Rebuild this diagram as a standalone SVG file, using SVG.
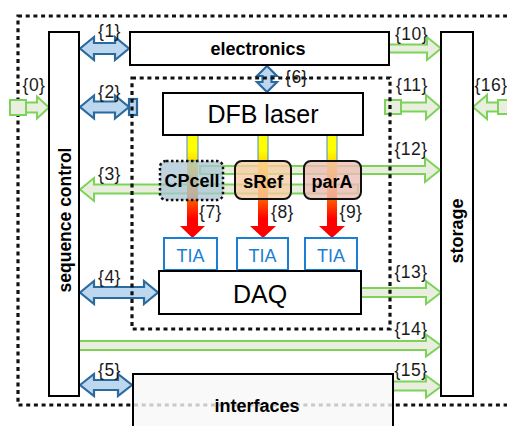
<svg xmlns="http://www.w3.org/2000/svg" width="507" height="426" viewBox="0 0 507 426">
<defs>
<style>
.dot{fill:none;stroke:#111;stroke-width:3.2;stroke-dasharray:4 3.7}
.box{fill:#fff;stroke:#000;stroke-width:2}
.g{fill:#e9eedf;stroke:#7dd35a;stroke-width:2;stroke-linejoin:miter}
.b{fill:#bdd7ee;stroke:#2a6a9e;stroke-width:2.2;stroke-linejoin:miter}
.lbl{font-family:"Liberation Sans",Arial,sans-serif;font-size:17.5px;letter-spacing:0.5px;fill:#1a1a1a}
.t{font-family:"Liberation Sans",Arial,sans-serif;font-weight:bold;fill:#000}
.n{font-family:"Liberation Sans",Arial,sans-serif;fill:#000}
.tia{fill:#fff;stroke:#1a7fd4;stroke-width:2}
.tiat{font-family:"Liberation Sans",Arial,sans-serif;font-size:18px;fill:#1a7fd4;text-anchor:middle}
.beamtop{fill:none;stroke:#4a8ad0;stroke-width:1}
</style>
<linearGradient id="beam" gradientUnits="userSpaceOnUse" x1="0" y1="150" x2="0" y2="228">
<stop offset="0" stop-color="#ffff00"/>
<stop offset="0.2" stop-color="#ffd000"/>
<stop offset="0.64" stop-color="#ff5a00"/>
<stop offset="0.88" stop-color="#ff0000"/>
<stop offset="1" stop-color="#ff0000"/>
</linearGradient>
</defs>

<rect class="dot" x="18" y="16" width="520" height="389"/>

<g id="connectors">
<rect class="g" x="10" y="100" width="16" height="15"/>
<path class="g" d="M26 102.5H37V96.5L49 107.5L37 118.5V112.5H26Z"/>
<path class="g" d="M389 44.5H427V37L441 48.5L427 60V52.5H389Z"/>
<rect class="g" x="385" y="100" width="16" height="14"/>
<path class="g" d="M401 102.5H426V95L440 107L426 119V111.5H401Z"/>
<path class="g" d="M507 102.5H487V95L473 107L487 119V111.5H507Z"/>
<rect class="g" x="498" y="100" width="16" height="14"/>
<path class="g" d="M200 166H425V158L440 170L425 182V174H200Z"/>
<path class="g" d="M358 184.5H94V178L80 189.5L94 201V193.5H358Z"/>
<path class="g" d="M361 288H426V281L441 292.5L426 304V297H361Z"/>
<path class="g" d="M79 341H426V334.5L441 345.5L426 356.5V350H79Z"/>
<path class="g" d="M393 381.5H426V375.5L441 386.5L426 397.5V390.5H393Z"/>
<path class="b" d="M80 48.5L94 37V43H115V37L129 48.5L115 60V54H94V60Z"/>
<path class="b" d="M80 107L94 95.5V101.5H115V95.5L129 107L115 118.5V112.5H94V118.5Z"/>
<rect class="b" x="129" y="99" width="8" height="16"/>
<path class="b" d="M80 292.5L94 281V287H144V281L158 292.5L144 304V298H94V304Z"/>
<path class="b" d="M80 385L94 374V380H118V374L132 385L118 396V390H94V396Z"/>
<path class="b" d="M267 66L277 76H271.5V82H277L267 92L257 82H262.5V76H257Z"/>
</g>

<rect class="dot" x="132" y="78" width="258" height="251"/>

<g id="beams">
<path d="M187 135H198V226H205L192.5 238L180 226H187Z" fill="url(#beam)"/>
<rect class="beamtop" x="187" y="135" width="11" height="26"/>
<path d="M258 135H268V226H276L263 238L250 226H258Z" fill="url(#beam)"/>
<rect class="beamtop" x="258" y="135" width="10" height="26"/>
<path d="M327 135H337V226H345L332 238L319 226H327Z" fill="url(#beam)"/>
<rect class="beamtop" x="327" y="135" width="10" height="26"/>
</g>

<g id="sequence-control">
<rect class="box" x="49" y="32" width="30" height="364"/>
<text class="t" font-size="17.5" text-anchor="middle" transform="translate(71 220) rotate(-90)">sequence control</text>
</g>
<g id="storage">
<rect class="box" x="441" y="32" width="32" height="364"/>
<text class="t" font-size="18" text-anchor="middle" transform="translate(463 231) rotate(-90)">storage</text>
</g>
<g id="electronics">
<rect class="box" x="130" y="32" width="259" height="33"/>
<text class="t" font-size="18" x="258" y="55" text-anchor="middle">electronics</text>
</g>
<g id="dfb-laser">
<rect class="box" x="163" y="93" width="200" height="42"/>
<text class="n" font-size="25" x="263" y="123" text-anchor="middle">DFB laser</text>
</g>
<g id="cpcell">
<rect x="160" y="161" width="63" height="39" rx="6" fill="#a9c6d4" fill-opacity="0.75" stroke="#111" stroke-width="2.5" stroke-dasharray="2.5 2.5"/>
<text class="t" font-size="18" x="192" y="187" text-anchor="middle">CPcell</text>
</g>
<g id="sref">
<rect x="235" y="161" width="56" height="38" rx="7" fill="#f8cda3" fill-opacity="0.78" stroke="#111" stroke-width="2"/>
<text class="t" font-size="18.5" x="263" y="188" text-anchor="middle">sRef</text>
</g>
<g id="para">
<rect x="304" y="161" width="57" height="38" rx="7" fill="#efbcb6" fill-opacity="0.78" stroke="#111" stroke-width="2"/>
<text class="t" font-size="18" x="332" y="188" text-anchor="middle">parA</text>
</g>
<g id="tia1">
<rect class="tia" x="164" y="238" width="53" height="32"/>
<text class="tiat" x="190.5" y="262">TIA</text>
</g>
<g id="tia2">
<rect class="tia" x="237" y="238" width="51" height="32"/>
<text class="tiat" x="262.5" y="262">TIA</text>
</g>
<g id="tia3">
<rect class="tia" x="305" y="238" width="52" height="32"/>
<text class="tiat" x="331" y="262">TIA</text>
</g>
<g id="daq">
<rect class="box" x="159" y="271" width="202" height="43"/>
<text class="n" font-size="25" x="260" y="303" text-anchor="middle">DAQ</text>
</g>
<g id="interfaces">
<rect x="133" y="374" width="260" height="60" fill="#f7f7f7" fill-opacity="0.8" stroke="#000" stroke-width="2"/>
<text class="t" font-size="18" x="257" y="412" text-anchor="middle">interfaces</text>
</g>

<g id="labels">
<text class="lbl" x="34" y="91" text-anchor="middle">{0}</text>
<text class="lbl" x="109.5" y="37" text-anchor="middle">{1}</text>
<text class="lbl" x="109.5" y="98" text-anchor="middle">{2}</text>
<text class="lbl" x="109.5" y="180" text-anchor="middle">{3}</text>
<text class="lbl" x="109.5" y="283" text-anchor="middle">{4}</text>
<text class="lbl" x="109.5" y="376" text-anchor="middle">{5}</text>
<text class="lbl" x="296.5" y="83" text-anchor="middle">{6}</text>
<text class="lbl" x="210.5" y="218" text-anchor="middle">{7}</text>
<text class="lbl" x="282.5" y="218" text-anchor="middle">{8}</text>
<text class="lbl" x="351" y="218" text-anchor="middle">{9}</text>
<text class="lbl" x="411.5" y="40" text-anchor="middle">{10}</text>
<text class="lbl" x="412" y="91" text-anchor="middle">{11}</text>
<text class="lbl" x="411" y="155" text-anchor="middle">{12}</text>
<text class="lbl" x="411" y="278" text-anchor="middle">{13}</text>
<text class="lbl" x="411" y="335" text-anchor="middle">{14}</text>
<text class="lbl" x="411" y="376" text-anchor="middle">{15}</text>
<text class="lbl" x="491" y="91" text-anchor="middle">{16}</text>
</g>
</svg>
